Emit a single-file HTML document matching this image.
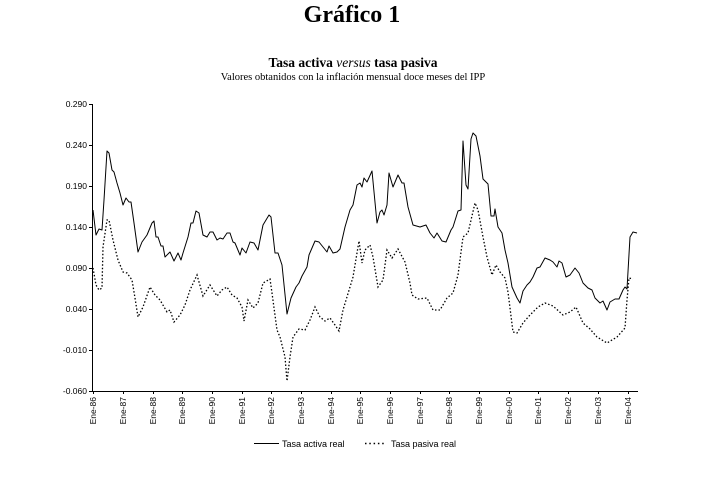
<!DOCTYPE html>
<html><head><meta charset="utf-8"><style>
html,body{margin:0;padding:0;background:#fff;}
svg{display:block;}
</style></head><body>
<svg width="722" height="483" viewBox="0 0 722 483" xmlns="http://www.w3.org/2000/svg">
<rect width="722" height="483" fill="#fff"/>
<text x="352" y="22" text-anchor="middle" font-family="Liberation Serif, serif" font-weight="bold" font-size="24">Gráfico 1</text>
<text x="353" y="67" text-anchor="middle" font-family="Liberation Serif, serif" font-weight="bold" font-size="13.5">Tasa activa <tspan font-style="italic" font-weight="normal">versus</tspan>  tasa pasiva</text>
<text x="353" y="80" text-anchor="middle" font-family="Liberation Serif, serif" font-size="10.5">Valores obtanidos con la inflación mensual doce meses del IPP</text>
<g stroke="#000" stroke-width="1" fill="none">
<line x1="92.5" y1="104" x2="92.5" y2="391"/>
<line x1="92" y1="391.5" x2="638" y2="391.5"/>
<path d="M89 104.5h3M89 145.5h3M89 186.5h3M89 227.5h3M89 268.5h3M89 309.5h3M89 350.5h3M89 391.5h3"/>
<path d="M93.5 391v3M123.5 391v3M153.5 391v3M182.5 391v3M212.5 391v3M242.5 391v3M271.5 391v3M301.5 391v3M331.5 391v3M360.5 391v3M390.5 391v3M420.5 391v3M449.5 391v3M479.5 391v3M509.5 391v3M538.5 391v3M568.5 391v3M598.5 391v3M628.5 391v3"/>
</g>
<polyline fill="none" stroke="#000" stroke-width="1" stroke-linejoin="round" points="93,210 96,235 99,229 102,230 104,200 107,151 109,153 112,170 114,172 117,183 120,193 123,205 126,198 129,202 131,202 134,223 138,252 142,242 147,235 152,223 154,221 156,237 158,237 161,246 163,246 165,257 170,252 174,261 178,253 181,260 183,253 188,237 191,223 193,223 196,211 199,213 203,235 207,237 210,232 213,232 217,240 220,238 223,239 227,233 230,233 233,242 235,243 240,255 242,248 246,253 250,242 254,243 258,250 263,225 269,215 271,217 275,253 278,253 282,265 287,314 291,298 296,287 299,283 302,276 307,267 309,255 315,241 319,242 323,247 327,252 329,246 333,253 337,252 340,249 345,227 350,210 353,205 357,185 360,183 362,187 364,178 367,182 372,171 377,223 380,212 382,210 384,215 387,205 389,173 393,187 398,175 402,183 404,183 408,207 413,225 420,227 426,225 430,233 434,238 437,233 442,241 446,242 451,230 453,227 458,211 461,210 463,141 466,185 468,189 471,139 473,133 476,136 480,156 483,179 488,184 491,216 494,216 495,209 498,227 502,233 505,250 508,263 512,287 517,298 520,303 523,291 527,285 530,282 533,277 537,268 540,267 545,258 550,260 553,262 557,267 559,261 562,263 566,277 570,275 575,268 579,273 583,283 588,288 592,290 595,298 600,303 603,301 607,310 610,302 615,299 619,299 623,290 625,287 627,289 630,237 633,232 637,233"/>
<polyline fill="none" stroke="#000" stroke-width="1.3" stroke-dasharray="1.5,2" points="93,268 96,285 99,290 102,288 103,247 107,220 109,220 113,240 118,260 123,272 127,273 132,280 135,298 138,317 143,307 150,287 155,295 160,300 167,312 170,310 174,322 180,315 185,305 190,290 197,275 203,296 210,285 217,296 222,290 227,287 232,295 237,298 242,307 244,321 248,300 253,308 258,303 263,283 270,279 272,293 277,330 280,337 285,357 287,381 290,357 293,337 299,329 305,330 310,320 315,307 320,317 325,321 330,318 335,325 339,331 343,310 350,287 353,277 357,253 359,241 362,263 365,250 370,245 373,257 378,287 383,280 387,250 392,258 398,249 405,262 410,283 412,295 418,299 427,298 433,310 440,310 447,298 453,293 458,275 463,237 468,233 475,203 478,210 483,237 487,257 492,275 496,265 500,272 505,278 508,292 513,332 517,333 523,323 530,315 538,307 545,303 553,306 563,315 570,312 576,307 583,323 590,329 597,337 607,343 617,337 625,328 627,300 629,278 633,279"/>
<g font-family="Liberation Sans, sans-serif" font-size="8.5" text-anchor="end" fill="#000">
<text x="87" y="107">0.290</text><text x="87" y="148">0.240</text><text x="87" y="189">0.190</text><text x="87" y="230">0.140</text><text x="87" y="271">0.090</text><text x="87" y="312">0.040</text><text x="87" y="353">-0.010</text><text x="87" y="394">-0.060</text>
</g>
<line x1="254" y1="443.5" x2="279" y2="443.5" stroke="#000" stroke-width="1"/>
<text x="282" y="447" font-family="Liberation Sans, sans-serif" font-size="9">Tasa activa real</text>
<line x1="365" y1="443.5" x2="385" y2="443.5" stroke="#000" stroke-width="1.5" stroke-dasharray="1.5,2.8"/>
<text x="391" y="447" font-family="Liberation Sans, sans-serif" font-size="9">Tasa pasiva real</text>
<g font-family="Liberation Sans, sans-serif" font-size="8.5" text-anchor="end" fill="#000">
<text transform="translate(96,397) rotate(-90)">Ene-86</text>
<text transform="translate(126,397) rotate(-90)">Ene-87</text>
<text transform="translate(156,397) rotate(-90)">Ene-88</text>
<text transform="translate(185,397) rotate(-90)">Ene-89</text>
<text transform="translate(215,397) rotate(-90)">Ene-90</text>
<text transform="translate(245,397) rotate(-90)">Ene-91</text>
<text transform="translate(274,397) rotate(-90)">Ene-92</text>
<text transform="translate(304,397) rotate(-90)">Ene-93</text>
<text transform="translate(334,397) rotate(-90)">Ene-94</text>
<text transform="translate(363,397) rotate(-90)">Ene-95</text>
<text transform="translate(393,397) rotate(-90)">Ene-96</text>
<text transform="translate(423,397) rotate(-90)">Ene-97</text>
<text transform="translate(452,397) rotate(-90)">Ene-98</text>
<text transform="translate(482,397) rotate(-90)">Ene-99</text>
<text transform="translate(512,397) rotate(-90)">Ene-00</text>
<text transform="translate(541,397) rotate(-90)">Ene-01</text>
<text transform="translate(571,397) rotate(-90)">Ene-02</text>
<text transform="translate(601,397) rotate(-90)">Ene-03</text>
<text transform="translate(631,397) rotate(-90)">Ene-04</text>
</g>
</svg>
</body></html>
